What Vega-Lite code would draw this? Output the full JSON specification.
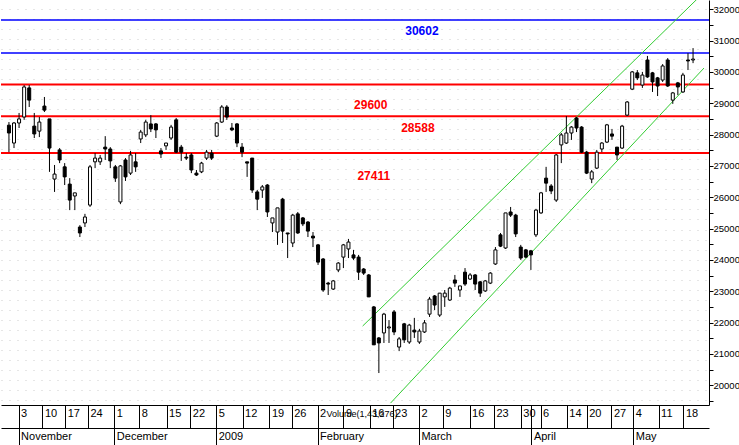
{
  "$schema": "https://vega.github.io/schema/vega-lite/v6.json",
  "width": 708,
  "height": 405,
  "padding": 0,
  "background": "white",
  "config": {"view": {"stroke": null}},
  "datasets": {
    "candles": [
      {"i":0,"o":28300,"h":28400,"l":27440,"c":28050},
      {"i":1,"o":27730,"h":28400,"l":27570,"c":28370},
      {"i":2,"o":28370,"h":28690,"l":28210,"c":28500},
      {"i":3,"o":28560,"h":29580,"l":28470,"c":29520},
      {"i":4,"o":29490,"h":29580,"l":28880,"c":29100},
      {"i":5,"o":28270,"h":28690,"l":27890,"c":28020},
      {"i":6,"o":28110,"h":28560,"l":27920,"c":28400},
      {"i":7,"o":28910,"h":29200,"l":28720,"c":28780},
      {"i":8,"o":28500,"h":28500,"l":26810,"c":27570},
      {"i":9,"o":26580,"h":27030,"l":26170,"c":26740},
      {"i":10,"o":27510,"h":27570,"l":27090,"c":27190},
      {"i":11,"o":26970,"h":27090,"l":26390,"c":26650},
      {"i":12,"o":26420,"h":26610,"l":25590,"c":25910},
      {"i":13,"o":26040,"h":26140,"l":25590,"c":26140},
      {"i":14,"o":25050,"h":25110,"l":24730,"c":24860},
      {"i":15,"o":25180,"h":25470,"l":25050,"c":25370},
      {"i":16,"o":25750,"h":27030,"l":25690,"c":26970},
      {"i":17,"o":27130,"h":27410,"l":26930,"c":27250},
      {"i":18,"o":27130,"h":27350,"l":27030,"c":27250},
      {"i":19,"o":27600,"h":27950,"l":27190,"c":27540},
      {"i":20,"o":27540,"h":27600,"l":26930,"c":27160},
      {"i":21,"o":26970,"h":27030,"l":26490,"c":26610},
      {"i":22,"o":25850,"h":27030,"l":25780,"c":27000},
      {"i":23,"o":27190,"h":27250,"l":26520,"c":26650},
      {"i":24,"o":26770,"h":27480,"l":26710,"c":27350},
      {"i":25,"o":27130,"h":27410,"l":26810,"c":26970},
      {"i":26,"o":27860,"h":28150,"l":27730,"c":28080},
      {"i":27,"o":27990,"h":28470,"l":27920,"c":28400},
      {"i":28,"o":28340,"h":28620,"l":28080,"c":28180},
      {"i":29,"o":28340,"h":28370,"l":27890,"c":28150},
      {"i":30,"o":27480,"h":27570,"l":27250,"c":27380},
      {"i":31,"o":27640,"h":27730,"l":27510,"c":27730},
      {"i":32,"o":27890,"h":28310,"l":27830,"c":28240},
      {"i":33,"o":28470,"h":28530,"l":27410,"c":27440},
      {"i":34,"o":27600,"h":27670,"l":27160,"c":27440},
      {"i":35,"o":27280,"h":27410,"l":27190,"c":27250},
      {"i":36,"o":27350,"h":27410,"l":26770,"c":26870},
      {"i":37,"o":26770,"h":26870,"l":26680,"c":26710},
      {"i":38,"o":26810,"h":27130,"l":26770,"c":27090},
      {"i":39,"o":27250,"h":27510,"l":27190,"c":27440},
      {"i":40,"o":27410,"h":27510,"l":27190,"c":27250},
      {"i":41,"o":27950,"h":28400,"l":27920,"c":28370},
      {"i":42,"o":28400,"h":28940,"l":28370,"c":28880},
      {"i":43,"o":28880,"h":28940,"l":28470,"c":28560},
      {"i":44,"o":28210,"h":28370,"l":28110,"c":28150},
      {"i":45,"o":28340,"h":28370,"l":27600,"c":27730},
      {"i":46,"o":27600,"h":27730,"l":27280,"c":27440},
      {"i":47,"o":27130,"h":27130,"l":26650,"c":27090},
      {"i":48,"o":27250,"h":27250,"l":26140,"c":26230},
      {"i":49,"o":26170,"h":26230,"l":25590,"c":25940},
      {"i":50,"o":26230,"h":26390,"l":25980,"c":26330},
      {"i":51,"o":26390,"h":26420,"l":25370,"c":25530},
      {"i":52,"o":25180,"h":25340,"l":24890,"c":25340},
      {"i":53,"o":24890,"h":25660,"l":24480,"c":25660},
      {"i":54,"o":25940,"h":25980,"l":24540,"c":24920},
      {"i":55,"o":24860,"h":24860,"l":24060,"c":24830},
      {"i":56,"o":24540,"h":25470,"l":24410,"c":25430},
      {"i":57,"o":25470,"h":25530,"l":24830,"c":24860},
      {"i":58,"o":25340,"h":25370,"l":25080,"c":25150},
      {"i":59,"o":25210,"h":25240,"l":24730,"c":24920},
      {"i":60,"o":24760,"h":24890,"l":24410,"c":24700},
      {"i":61,"o":24480,"h":24510,"l":23840,"c":23930},
      {"i":62,"o":24030,"h":24060,"l":22980,"c":23040},
      {"i":63,"o":23260,"h":23300,"l":22880,"c":23230},
      {"i":64,"o":23070,"h":23360,"l":23040,"c":23330},
      {"i":65,"o":23680,"h":23930,"l":23610,"c":23900},
      {"i":66,"o":24090,"h":24510,"l":23740,"c":24480},
      {"i":67,"o":24350,"h":24670,"l":24060,"c":24570},
      {"i":68,"o":24160,"h":24320,"l":24000,"c":24060},
      {"i":69,"o":24090,"h":24160,"l":23360,"c":23610},
      {"i":70,"o":23710,"h":23740,"l":23520,"c":23580},
      {"i":71,"o":23520,"h":23550,"l":22820,"c":22820},
      {"i":72,"o":22500,"h":22530,"l":21290,"c":21290},
      {"i":73,"o":21510,"h":21540,"l":20390,"c":21350},
      {"i":74,"o":21670,"h":22310,"l":21350,"c":22270},
      {"i":75,"o":21830,"h":22080,"l":21350,"c":21860},
      {"i":76,"o":22340,"h":22400,"l":21600,"c":21700},
      {"i":77,"o":21220,"h":21540,"l":21090,"c":21480},
      {"i":78,"o":21960,"h":21990,"l":21350,"c":21450},
      {"i":79,"o":21380,"h":21960,"l":21320,"c":21920},
      {"i":80,"o":21760,"h":22150,"l":21510,"c":21700},
      {"i":81,"o":21380,"h":21800,"l":21320,"c":21730},
      {"i":82,"o":21700,"h":22080,"l":21670,"c":21990},
      {"i":83,"o":22270,"h":22820,"l":22180,"c":22750},
      {"i":84,"o":22850,"h":22880,"l":22400,"c":22560},
      {"i":85,"o":22240,"h":22940,"l":22180,"c":22940},
      {"i":86,"o":22820,"h":23040,"l":22500,"c":22940},
      {"i":87,"o":22720,"h":23140,"l":22690,"c":23100},
      {"i":88,"o":23360,"h":23520,"l":23140,"c":23260},
      {"i":89,"o":23040,"h":23170,"l":22820,"c":23170},
      {"i":90,"o":23610,"h":23740,"l":23170,"c":23230},
      {"i":91,"o":23390,"h":23580,"l":23360,"c":23520},
      {"i":92,"o":23520,"h":23550,"l":23040,"c":23230},
      {"i":93,"o":23300,"h":23330,"l":22820,"c":22940},
      {"i":94,"o":23010,"h":23360,"l":22980,"c":23330},
      {"i":95,"o":23260,"h":23610,"l":23230,"c":23580},
      {"i":96,"o":23870,"h":24410,"l":23840,"c":24320},
      {"i":97,"o":24800,"h":24860,"l":24410,"c":24440},
      {"i":98,"o":24380,"h":25500,"l":24350,"c":25500},
      {"i":99,"o":25530,"h":25690,"l":25370,"c":25430},
      {"i":100,"o":25430,"h":25470,"l":24730,"c":24830},
      {"i":101,"o":24410,"h":24480,"l":24000,"c":24060},
      {"i":102,"o":24320,"h":24350,"l":24060,"c":24090},
      {"i":103,"o":24290,"h":24320,"l":23680,"c":24160},
      {"i":104,"o":24800,"h":25630,"l":24730,"c":25590},
      {"i":105,"o":25500,"h":26170,"l":25470,"c":26140},
      {"i":106,"o":26610,"h":26970,"l":26170,"c":26450},
      {"i":107,"o":26360,"h":26420,"l":26100,"c":26200},
      {"i":108,"o":25910,"h":27380,"l":25850,"c":27350},
      {"i":109,"o":27670,"h":28050,"l":27090,"c":27990},
      {"i":110,"o":27730,"h":28590,"l":27700,"c":28050},
      {"i":111,"o":28050,"h":28270,"l":27830,"c":28240},
      {"i":112,"o":28530,"h":28560,"l":28080,"c":28210},
      {"i":113,"o":28240,"h":28270,"l":27410,"c":27440},
      {"i":114,"o":27440,"h":27480,"l":26740,"c":26770},
      {"i":115,"o":26580,"h":26870,"l":26450,"c":26810},
      {"i":116,"o":26930,"h":27510,"l":26900,"c":27440},
      {"i":117,"o":27540,"h":27760,"l":27440,"c":27730},
      {"i":118,"o":27760,"h":28340,"l":27730,"c":28310},
      {"i":119,"o":28020,"h":28180,"l":27830,"c":27950},
      {"i":120,"o":27600,"h":27600,"l":27190,"c":27350},
      {"i":121,"o":27570,"h":28310,"l":27540,"c":28270},
      {"i":122,"o":28620,"h":29070,"l":28590,"c":29040},
      {"i":123,"o":29450,"h":30030,"l":29420,"c":30000},
      {"i":124,"o":29970,"h":30060,"l":29740,"c":29810},
      {"i":125,"o":29580,"h":30000,"l":29490,"c":29900},
      {"i":126,"o":30380,"h":30510,"l":29810,"c":29840},
      {"i":127,"o":29970,"h":30000,"l":29360,"c":29680},
      {"i":128,"o":29810,"h":29840,"l":29230,"c":29550},
      {"i":129,"o":29740,"h":30250,"l":29680,"c":30190},
      {"i":130,"o":30380,"h":30440,"l":29520,"c":29550},
      {"i":131,"o":29100,"h":29360,"l":28980,"c":29330},
      {"i":132,"o":29650,"h":29680,"l":29260,"c":29520},
      {"i":133,"o":29360,"h":29970,"l":29330,"c":29900},
      {"i":134,"o":30380,"h":30600,"l":30060,"c":30350},
      {"i":135,"o":30380,"h":30760,"l":30280,"c":30410}
    ],
    "levels": [
      {"price":31660,"group":"blue"},
      {"price":30602,"group":"blue"},
      {"price":29600,"group":"red"},
      {"price":28588,"group":"red"},
      {"price":27411,"group":"red"}
    ],
    "labels": [
      {"label":"30602","i":81.5,"price":31305,"group":"blue"},
      {"label":"29600","i":71.4,"price":28943,"group":"red"},
      {"label":"28588","i":80.7,"price":28210,"group":"red"},
      {"label":"27411","i":72.0,"price":26678,"group":"red"}
    ],
    "channel": [
      {"line":"upper","i":69.8,"price":21890},
      {"line":"upper","i":137.16,"price":32540},
      {"line":"lower","i":75.3,"price":19430},
      {"line":"lower","i":137.16,"price":30124}
    ]
  },
  "resolve": {"axis": {"x": "independent", "y": "independent"}},
  "layer": [
    {
      "data": {"name": "levels"},
      "transform": [{"filter": "datum.group === 'blue'"}],
      "mark": {"type": "rule", "color": "#0000ff", "strokeWidth": 1.5},
      "encoding": {
        "y": {
          "field": "price", "type": "quantitative",
          "scale": {"domain": [19370, 32295], "nice": false, "zero": false},
          "axis": {
            "orient": "right", "title": null, "grid": false,
            "values": [19500,20000,20500,21000,21500,22000,22500,23000,23500,24000,24500,25000,25500,26000,26500,27000,27500,28000,28500,29000,29500,30000,30500,31000,31500,32000],
            "format": "d",
            "labelExpr": "datum.value % 1000 === 0 ? datum.label : ''",
            "tickSize": 4, "tickColor": "black", "domainColor": "black",
            "labelPadding": 0, "labelFontSize": 9.5, "labelColor": "black",
            "labelFont": "Liberation Sans, Arial, sans-serif",
            "labelOverlap": false, "labelFlush": false, "labelBound": false
          }
        }
      }
    },
    {
      "data": {"name": "levels"},
      "transform": [{"filter": "datum.group === 'red'"}],
      "mark": {"type": "rule", "color": "#ff0000", "strokeWidth": 2},
      "encoding": {
        "y": {
          "field": "price", "type": "quantitative",
          "scale": {"domain": [19370, 32295], "nice": false, "zero": false},
          "axis": {
            "orient": "left", "title": null, "labels": false, "ticks": false, "domain": false,
            "grid": true, "gridColor": "#cccccc", "gridDash": [1, 7], "gridWidth": 1,
            "values": [19530,19850,20170,20490,20810,21130,21450,21770,22090,22410,22730,23050,23370,23690,24010,24330,24650,24970,25290,25610,25930,26250,26570,26890,27210,27530,27850,28170,28490,28810,29130,29450,29770,30090,30410,30730,31050,31370,31690,32010]
          }
        }
      }
    },
    {
      "data": {"name": "channel"},
      "mark": {"type": "line", "color": "#33cc33", "strokeWidth": 1, "clip": true},
      "encoding": {
        "x": {
          "field": "i", "type": "quantitative",
          "scale": {"domain": [-0.58, 137.16], "nice": false, "zero": false},
          "axis": {
            "orient": "bottom", "offset": 23, "grid": false, "title": null,
            "values": [1.9,20.8,40.9,60.9,80.9,103.1,123.2],
            "labelExpr": "['November','December','2009','February','March','April','May'][indexof([1.9,20.8,40.9,60.9,80.9,103.1,123.2], datum.value)]",
            "tickSize": 17, "tickColor": "black", "domainColor": "black",
            "labelAlign": "left", "labelBaseline": "top", "labelPadding": -15, "labelOffset": 2,
            "labelFontSize": 11, "labelColor": "black",
            "labelFont": "Liberation Sans, Arial, sans-serif",
            "labelOverlap": false, "labelFlush": false, "labelBound": false
          }
        },
        "y": {"field": "price", "type": "quantitative", "scale": {"domain": [19370, 32295], "nice": false, "zero": false}, "axis": null},
        "detail": {"field": "line", "type": "nominal"}
      }
    },
    {
      "data": {"name": "candles"},
      "mark": {"type": "rule", "color": "black", "strokeWidth": 1},
      "encoding": {
        "x": {
          "field": "i", "type": "quantitative",
          "scale": {"domain": [-0.58, 137.16], "nice": false, "zero": false},
          "axis": {
            "orient": "bottom", "offset": 0, "grid": false,
            "values": [1.9,6.6,11.1,15.6,20.8,25.7,31.1,35.8,40.9,46.1,51.4,55.8,60.9,66,71.2,75.7,80.9,85.6,90.9,95.7,101,103.1,104.9,110.1,114,118.9,123.2,128.2,133.1],
            "labelExpr": "['3','10','17','24','1','8','15','22','5','12','19','26','2','9','16','23','2','9','16','23','30','','6','14','20','27','4','11','18'][indexof([1.9,6.6,11.1,15.6,20.8,25.7,31.1,35.8,40.9,46.1,51.4,55.8,60.9,66,71.2,75.7,80.9,85.6,90.9,95.7,101,103.1,104.9,110.1,114,118.9,123.2,128.2,133.1], datum.value)]",
            "tickSize": 23, "tickColor": "black", "domainColor": "black",
            "labelAlign": "left", "labelBaseline": "top", "labelPadding": -21, "labelOffset": 2,
            "labelFontSize": 11, "labelColor": "black",
            "labelFont": "Liberation Sans, Arial, sans-serif",
            "labelOverlap": false, "labelFlush": false, "labelBound": false,
            "title": "Volume(1,43,276)", "titleX": 325, "titleY": 4, "titleAlign": "left", "titleBaseline": "top",
            "titleFontWeight": "normal", "titleFontSize": 9, "titleColor": "black",
            "titleFont": "Liberation Sans, Arial, sans-serif"
          }
        },
        "y": {"field": "l", "type": "quantitative", "scale": {"domain": [19370, 32295], "nice": false, "zero": false}, "axis": null},
        "y2": {"field": "h"}
      }
    },
    {
      "data": {"name": "candles"},
      "mark": {"type": "bar", "size": 3, "stroke": "black", "strokeWidth": 1},
      "encoding": {
        "x": {"field": "i", "type": "quantitative", "scale": {"domain": [-0.58, 137.16], "nice": false, "zero": false}, "axis": null},
        "y": {"field": "o", "type": "quantitative", "scale": {"domain": [19370, 32295], "nice": false, "zero": false}, "axis": null},
        "y2": {"field": "c"},
        "fill": {"condition": {"test": "datum.c >= datum.o", "value": "white"}, "value": "black"}
      }
    },
    {
      "data": {"name": "labels"},
      "mark": {"type": "text", "fontSize": 12, "fontWeight": "bold", "font": "Liberation Sans, Arial, sans-serif", "align": "center", "baseline": "middle"},
      "encoding": {
        "x": {"field": "i", "type": "quantitative", "scale": {"domain": [-0.58, 137.16], "nice": false, "zero": false}, "axis": null},
        "y": {"field": "price", "type": "quantitative", "scale": {"domain": [19370, 32295], "nice": false, "zero": false}, "axis": null},
        "text": {"field": "label"},
        "color": {"field": "group", "type": "nominal", "scale": {"domain": ["blue", "red"], "range": ["#0000ff", "#ff0000"]}, "legend": null}
      }
    }
  ]
}
